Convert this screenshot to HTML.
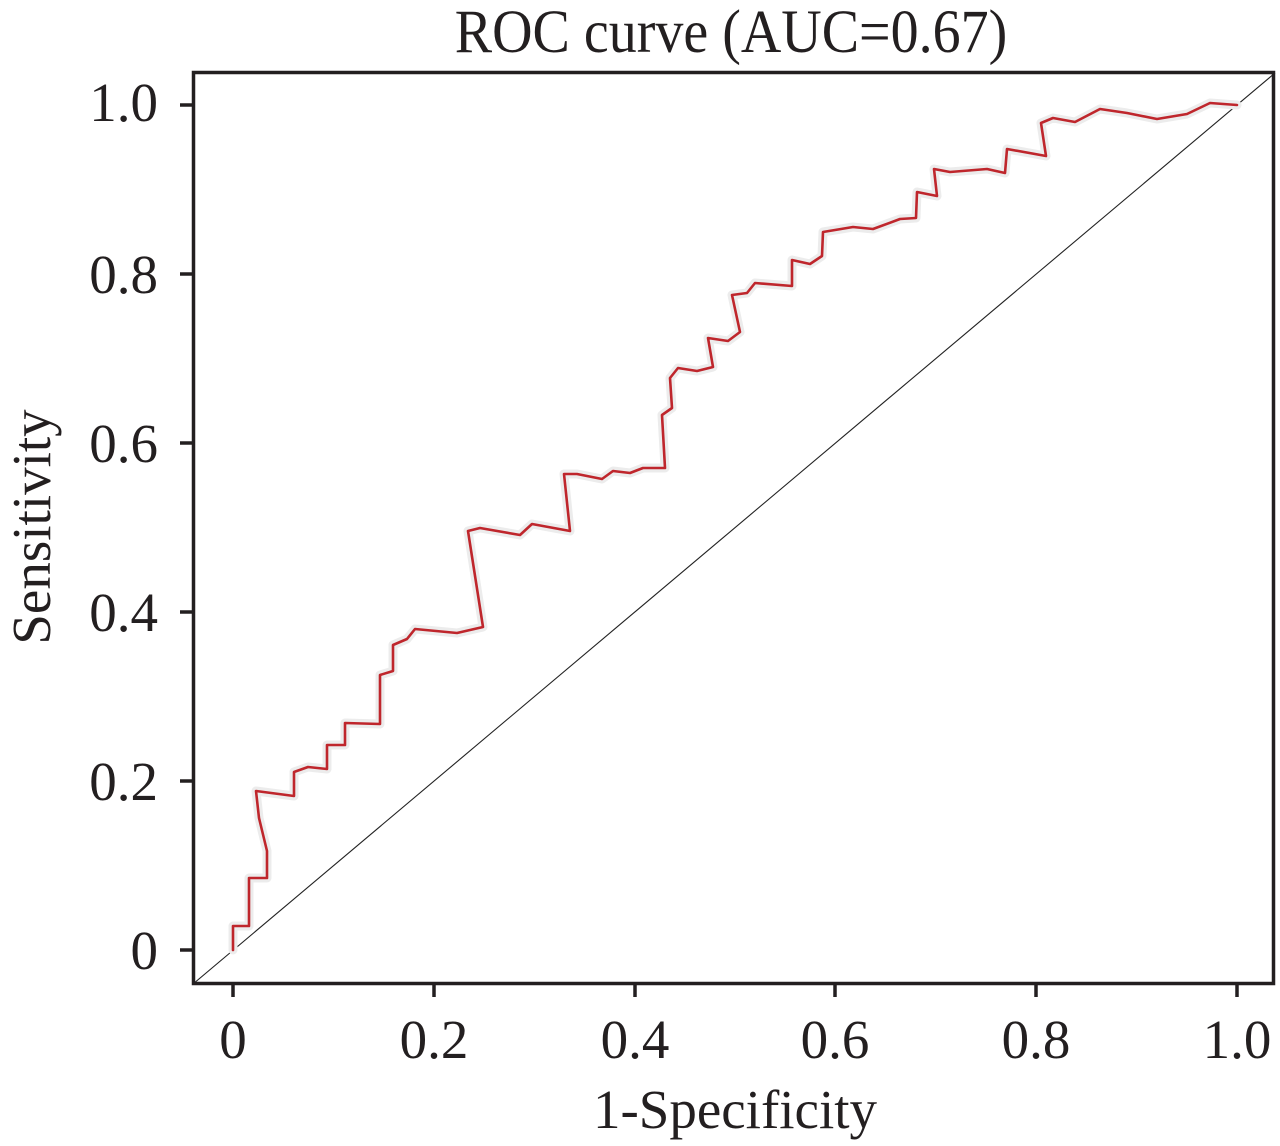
<!DOCTYPE html>
<html>
<head>
<meta charset="utf-8">
<style>
  html, body { margin:0; padding:0; background:#ffffff; }
  svg { display:block; }
  text { font-family: "Liberation Serif", "Times New Roman", serif; fill:#231f20; }
</style>
</head>
<body>
<svg width="1280" height="1146" viewBox="0 0 1280 1146" xmlns="http://www.w3.org/2000/svg">
  <rect x="0" y="0" width="1280" height="1146" fill="#ffffff"/>

  <!-- Title -->
  <g transform="translate(731,52) scale(1,1.1)">
    <text x="0" y="0" font-size="56" text-anchor="middle">ROC curve (AUC=0.67)</text>
  </g>

  <!-- diagonal reference line -->
  <line x1="193" y1="984" x2="1275" y2="73" stroke="#222" stroke-width="1.1"/>

  <!-- ROC curve halo -->
  <polyline fill="none" stroke="#ececec" stroke-width="9" stroke-linejoin="round" stroke-linecap="round"
    points="233,950 233,926 249,926 249,878 267,878 267,851 259,818 256,791 294,796 294,772 308,767 327,769 327,745 345,745 345,723 380,724 380,675 393,671 393,645 407,639 415,629 457,633 483,627 468,531 480,528 520,535 532,524 570,531 564,474 577,474 602,479 613,471 630,473 643,468 665,468 662,415 672,408 670,378 678,368 697,371 713,367 708,338 728,341 740,332 732,295 747,293 755,283 792,286 792,260 810,264 822,256 823,232 853,227 873,229 900,219 916,218 917,192 937,196 934,169 950,172 987,169 1005,173 1007,149 1046,156 1041,123 1053,118 1075,122 1100,109 1127,113 1157,119 1187,114 1210,103 1237,105"/>
  <!-- ROC curve -->
  <polyline fill="none" stroke="#bf262c" stroke-width="2.6" stroke-linejoin="round" stroke-linecap="round"
    points="233,950 233,926 249,926 249,878 267,878 267,851 259,818 256,791 294,796 294,772 308,767 327,769 327,745 345,745 345,723 380,724 380,675 393,671 393,645 407,639 415,629 457,633 483,627 468,531 480,528 520,535 532,524 570,531 564,474 577,474 602,479 613,471 630,473 643,468 665,468 662,415 672,408 670,378 678,368 697,371 713,367 708,338 728,341 740,332 732,295 747,293 755,283 792,286 792,260 810,264 822,256 823,232 853,227 873,229 900,219 916,218 917,192 937,196 934,169 950,172 987,169 1005,173 1007,149 1046,156 1041,123 1053,118 1075,122 1100,109 1127,113 1157,119 1187,114 1210,103 1237,105"/>

  <!-- Axes frame -->
  <rect x="193.5" y="72.5" width="1080" height="911" fill="none" stroke="#231f20" stroke-width="3.5"/>

  <!-- Y ticks -->
  <g stroke="#231f20" stroke-width="3.5">
    <line x1="180" y1="950" x2="193" y2="950"/>
    <line x1="180" y1="781" x2="193" y2="781"/>
    <line x1="180" y1="612" x2="193" y2="612"/>
    <line x1="180" y1="443" x2="193" y2="443"/>
    <line x1="180" y1="274" x2="193" y2="274"/>
    <line x1="180" y1="105" x2="193" y2="105"/>
  </g>
  <!-- X ticks -->
  <g stroke="#231f20" stroke-width="3.5">
    <line x1="233" y1="984" x2="233" y2="997"/>
    <line x1="434" y1="984" x2="434" y2="997"/>
    <line x1="635" y1="984" x2="635" y2="997"/>
    <line x1="835" y1="984" x2="835" y2="997"/>
    <line x1="1036" y1="984" x2="1036" y2="997"/>
    <line x1="1237" y1="984" x2="1237" y2="997"/>
  </g>

  <!-- Y tick labels -->
  <g font-size="55" text-anchor="end">
    <text x="158" y="969">0</text>
    <text x="158" y="800">0.2</text>
    <text x="158" y="631">0.4</text>
    <text x="158" y="462">0.6</text>
    <text x="158" y="293">0.8</text>
    <text x="158" y="121">1.0</text>
  </g>

  <!-- X tick labels -->
  <g font-size="55" text-anchor="middle">
    <text x="233" y="1058">0</text>
    <text x="434" y="1058">0.2</text>
    <text x="635" y="1058">0.4</text>
    <text x="835" y="1058">0.6</text>
    <text x="1036" y="1058">0.8</text>
    <text x="1237" y="1058">1.0</text>
  </g>

  <!-- Axis labels -->
  <text x="735" y="1128" font-size="55" text-anchor="middle">1-Specificity</text>
  <text x="0" y="0" font-size="55" text-anchor="middle" transform="translate(50,527) rotate(-90)">Sensitivity</text>
</svg>
</body>
</html>
